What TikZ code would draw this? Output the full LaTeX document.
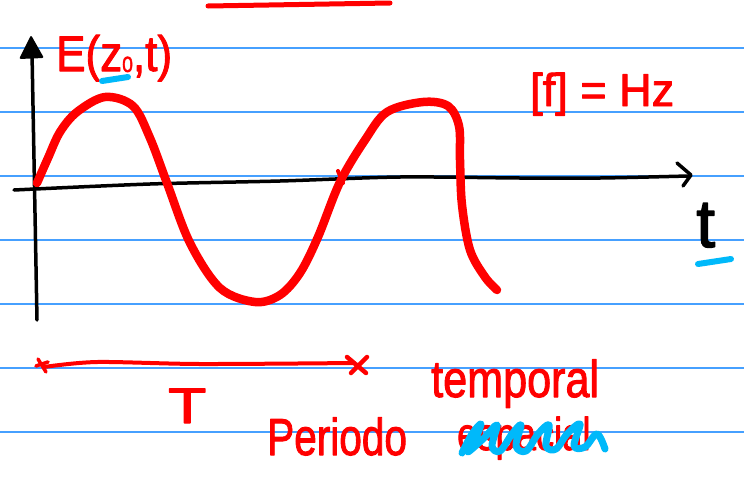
\documentclass[tikz,border=0pt]{standalone}
\usepackage{fontspec}
\setmainfont{Liberation Sans}
\newfontfamily\handfont[FakeBold=2]{Liberation Sans}
\usepackage{graphicx}
\definecolor{rulecol}{RGB}{70,160,255}
\definecolor{pen}{RGB}{255,0,0}
\definecolor{hl}{RGB}{0,185,250}
\begin{document}
\begin{tikzpicture}[x=1pt,y=-1pt, line cap=round, line join=round,
  ruled/.style={rulecol, line width=1.4pt},
  redpen/.style={pen, line width=5pt},
  wave/.style={pen, line width=8.5pt},
  axispen/.style={black, line width=3.5pt},
  hlpen/.style={hl, line width=6pt},
  handtxt/.style={inner sep=0pt, anchor=base west, text=pen}]
\useasboundingbox (0,0) rectangle (744,485);
\fill[white] (0,0) rectangle (744,485);
% ruled paper
\foreach \yy in {48,112,176,240,304,368,432}
  \draw[ruled] (0,\yy) -- (744,\yy);
% top red stroke
\draw[redpen] (208,6) -- (390,3);
% axes
\draw[axispen] (37,320) -- (32,52);
\fill[black, rounded corners=2pt] (31,35) -- (19,59) -- (44,58) -- cycle;
\draw[axispen] plot[smooth, tension=0.5] coordinates {(14,190) (150,184) (280,181) (400,177) (520,178) (600,178) (688,176)};
\draw[axispen] (677,163) -- (691,175) -- (683,186);
% wave
\draw[wave] plot[smooth, tension=0.55] coordinates {(37,183) (48,158) (60,132) (77,112) (105,97) (133,106) (150,138) (167,183) (190,243) (220,288) (255,302) (280,295) (300,273) (318,237) (340,182) (365,140) (387,112) (423,102) (448,106) (459,126) (460,160) (462,205) (470,250) (485,277) (497,290)};
\draw[pen, line width=4pt] (338,171) -- (343,183);
% labels
\node[handtxt, font=\handfont\fontsize{50}{50}\selectfont] (E) at (56,71)
  {\scalebox{0.88}[1]{E(z\raisebox{-1pt}{\fontsize{22}{22}\selectfont 0},t)}};
\draw[hlpen] (102,81) -- (128,77);
\node[handtxt, font=\handfont\fontsize{46}{46}\selectfont] (f) at (530,106)
  {\scalebox{0.98}[1]{[f] = Hz}};
\node[inner sep=0pt, anchor=base west, text=black, font=\handfont\fontsize{68}{68}\selectfont] (t) at (696,247) {t};
\draw[hlpen] (698,264) -- (731,259);
% period marker
\draw[redpen, line width=4pt] plot[smooth, tension=0.5] coordinates {(44,367) (97,362) (200,364) (354,363)};
\draw[redpen, line width=3.5pt] (38,359) -- (46,372) (36,366) -- (48,362);
\draw[redpen, line width=4.5pt] (347,357) -- (366,373) (367,357) -- (351,373);
\node[handtxt, font=\handfont\fontsize{50}{50}\selectfont] (T) at (168,423) {\scalebox{1.25}[1]{T}};
\node[handtxt, font=\handfont\fontsize{52}{52}\selectfont] (per) at (267,455) {\scalebox{0.78}[1]{Periodo}};
\node[handtxt, font=\handfont\fontsize{52}{52}\selectfont] (temp) at (431,397) {\scalebox{0.83}[1]{temporal}};
\node[handtxt, font=\handfont\fontsize{46}{46}\selectfont] (esp) at (457,450) {\scalebox{0.79}[1]{espacial}};
% blue scribble over "espacial"
\draw[hl, line width=7pt] plot[smooth, tension=0.6] coordinates {(462,453) (472,434) (481,424) (474,442) (468,452) (484,438) (497,425) (492,446) (500,451) (512,434) (521,425) (516,446) (526,451) (538,434) (549,425) (546,446) (556,449) (567,434) (580,424) (574,446) (585,447) (597,434) (605,449)};
\end{tikzpicture}
\end{document}
